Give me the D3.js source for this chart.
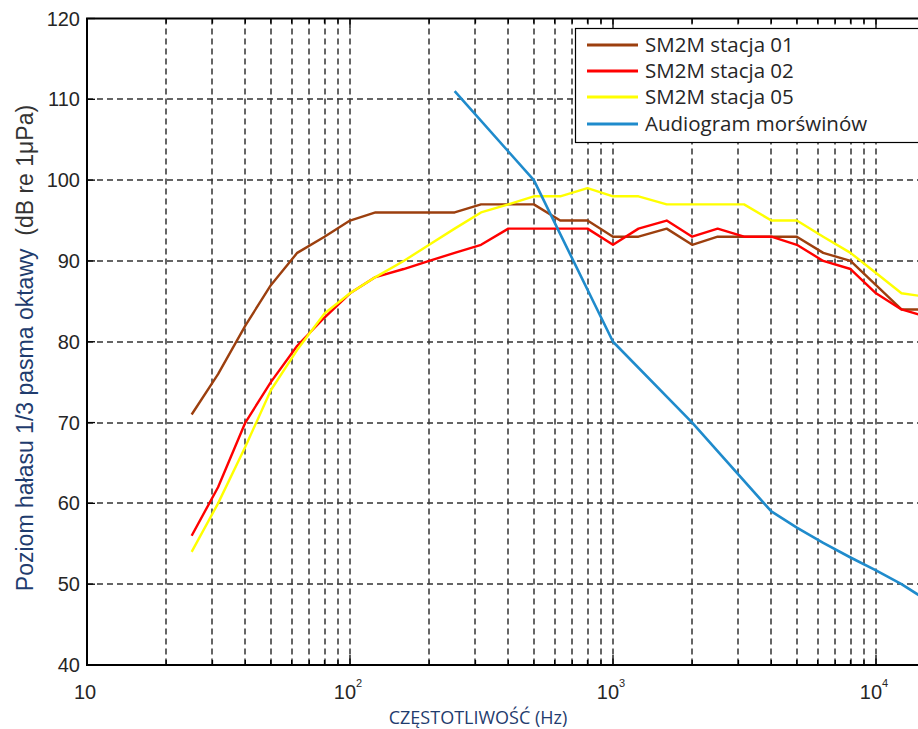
<!DOCTYPE html>
<html>
<head>
<meta charset="utf-8">
<script src="https://cdn.jsdelivr.net/npm/d3@7"></script>
<style>
  body { margin: 0; background: #fff; }
  svg { display: block; }
</style>
</head>
<body>
<svg width="918" height="729"></svg>
<script>
// third-octave band centre frequencies (Hz)
var freqs = [25, 31.5, 40, 50, 63, 80, 100, 125, 160, 200, 250, 315, 400, 500, 630, 800,
             1000, 1250, 1600, 2000, 2500, 3150, 4000, 5000, 6300, 8000, 10000, 12500, 16000];

var stacja01 = [71, 76, 82, 87, 91, 93, 95, 96, 96, 96, 96, 97, 97, 97, 95, 95,
                93, 93, 94, 92, 93, 93, 93, 93, 91, 90, 87, 84, 84];
var stacja02 = [56, 62, 70, 75, 79.5, 83, 86, 88, 89, 90, 91, 92, 94, 94, 94, 94,
                92, 94, 95, 93, 94, 93, 93, 92, 90, 89, 86, 84, 83];
var stacja05 = [54, 60, 67, 74, 79, 83.5, 86, 88, 90, 92, 94, 96, 97, 98, 98, 99,
                98, 98, 97, 97, 97, 97, 95, 95, 93, 91, 88.5, 86, 85.5];

var audioFreqs = [250, 500, 1000, 2000, 4000, 5000, 6300, 8000, 10000, 12500, 16000];
var audiogram  = [111, 100, 80, 70, 59, 57, 55.1, 53.3, 51.7, 50, 47.8];

var seriesNames = ["SM2M stacja 01", "SM2M stacja 02", "SM2M stacja 05", "Audiogram morświnów"];
var seriesColors = ["#9c3f0e", "#ff0000", "#ffff00", "#1f8bcc"];

var yTicks = [40, 50, 60, 70, 80, 90, 100, 110, 120];
var xDecades = [1, 2, 3, 4];

var svg = d3.select("svg");

var mLeft = 87, mTop = 18.5, mBottom = 665;
var decade = 263;

var x = d3.scaleLog().domain([10, 20000]).range([mLeft, mLeft + decade * Math.log10(2000)]);
var y = d3.scaleLinear().domain([40, 120]).range([mBottom, mTop]);
var mRight = x.range()[1];

// minor (all 1..9 x 10^n) positions
var minors = [];
xDecades.forEach(function (e) {
  for (var k = 1; k <= 9; k++) {
    var v = k * Math.pow(10, e);
    if (v <= 20000) minors.push(v);
  }
});

// grid
var grid = svg.append("g")
    .attr("stroke", "#333")
    .attr("stroke-width", 1.5)
    .attr("stroke-dasharray", "6,4");

grid.selectAll("line.v")
    .data(minors.filter(function (d) { return d > 10 && d < 20000; }))
    .enter().append("line")
    .attr("x1", function (d) { return Math.round(x(d)); })
    .attr("x2", function (d) { return Math.round(x(d)); })
    .attr("y1", mTop)
    .attr("y2", mBottom);

grid.selectAll("line.h")
    .data(yTicks.slice(1, -1))
    .enter().append("line")
    .attr("x1", mLeft)
    .attr("x2", mRight)
    .attr("y1", function (d) { return Math.round(y(d)); })
    .attr("y2", function (d) { return Math.round(y(d)); });

// tick marks (inside) on bottom and top
var ticks = svg.append("g").attr("stroke", "#000").attr("stroke-width", 1.3);
minors.forEach(function (d) {
  var len = (Math.log10(d) % 1 === 0) ? 10 : 5;
  ticks.append("line")
      .attr("x1", x(d)).attr("x2", x(d))
      .attr("y1", mBottom).attr("y2", mBottom - len);
  ticks.append("line")
      .attr("x1", x(d)).attr("x2", x(d))
      .attr("y1", mTop).attr("y2", mTop + len);
});
yTicks.forEach(function (d) {
  ticks.append("line")
      .attr("x1", mLeft).attr("x2", mLeft + 8)
      .attr("y1", y(d)).attr("y2", y(d));
});

// lines
var line = d3.line()
    .x(function (d) { return x(d[0]); })
    .y(function (d) { return y(d[1]); });

var plot = svg.append("g");
[stacja01, stacja02, stacja05].forEach(function (vals, i) {
  plot.append("path")
      .datum(d3.zip(freqs, vals))
      .attr("fill", "none")
      .attr("stroke", seriesColors[i])
      .attr("stroke-width", 2.4)
      .attr("stroke-linejoin", "round")
      .attr("d", line);
});
plot.append("path")
    .datum(d3.zip(audioFreqs, audiogram))
    .attr("fill", "none")
    .attr("stroke", seriesColors[3])
    .attr("stroke-width", 2.6)
    .attr("stroke-linejoin", "round")
    .attr("d", line);

// axes box
svg.append("path")
    .attr("d", "M" + mRight + "," + mTop + "H" + mLeft + "V" + mBottom + "H" + mRight)
    .attr("fill", "none")
    .attr("stroke", "#000")
    .attr("stroke-width", 2);

// y tick labels
svg.append("g").selectAll("text")
    .data(yTicks)
    .enter().append("text")
    .attr("x", 80)
    .attr("y", function (d) { return y(d) + 7; })
    .attr("text-anchor", "end")
    .attr("font-family", "Liberation Sans, Arial, sans-serif")
    .attr("font-size", 20)
    .attr("fill", "#262626")
    .text(function (d) { return d; });

// x tick labels 10^n
var xl = svg.append("g").selectAll("text")
    .data(xDecades)
    .enter().append("text")
    .attr("x", function (d) { return x(Math.pow(10, d)) - 2; })
    .attr("y", 699)
    .attr("text-anchor", "middle")
    .attr("font-family", "Liberation Sans, Arial, sans-serif")
    .attr("font-size", 20)
    .attr("fill", "#262626");
xl.append("tspan").text("10");
xl.append("tspan")
    .attr("dy", -12)
    .attr("font-size", 11)
    .text(function (d) { return d === 1 ? "" : d; });

// axis titles
svg.append("text")
    .attr("x", 478)
    .attr("y", 724)
    .attr("text-anchor", "middle")
    .attr("font-family", "Open Sans, sans-serif")
    .attr("font-size", 18)
    .attr("fill", "#1f3c6e")
    .text("CZĘSTOTLIWOŚĆ (Hz)");

var yl = svg.append("text")
    .attr("transform", "translate(33,348) rotate(-90)")
    .attr("text-anchor", "middle")
    .attr("font-family", "Liberation Sans, Arial, sans-serif")
    .attr("font-size", 23);
yl.append("tspan").attr("fill", "#1f3c6e").text("Poziom hałasu 1/3 pasma oktawy");
yl.append("tspan").attr("fill", "#333").text("\u00a0\u00a0(dB re 1μPa)");

// legend
var lg = svg.append("g");
lg.append("rect")
    .attr("x", 575.5).attr("y", 28.5)
    .attr("width", 360).attr("height", 114)
    .attr("fill", "#fff")
    .attr("stroke", "#000")
    .attr("stroke-width", 1.2);
var rowsY = [45, 71, 97, 124];
seriesNames.forEach(function (name, i) {
  lg.append("line")
      .attr("x1", 587).attr("x2", 638)
      .attr("y1", rowsY[i]).attr("y2", rowsY[i])
      .attr("stroke", seriesColors[i])
      .attr("stroke-width", 3);
  lg.append("text")
      .attr("x", 645)
      .attr("y", rowsY[i] + 7)
      .attr("font-family", "Open Sans, sans-serif")
      .attr("font-size", 20.5)
      .attr("fill", "#262626")
      .text(name);
});
</script>
</body>
</html>
